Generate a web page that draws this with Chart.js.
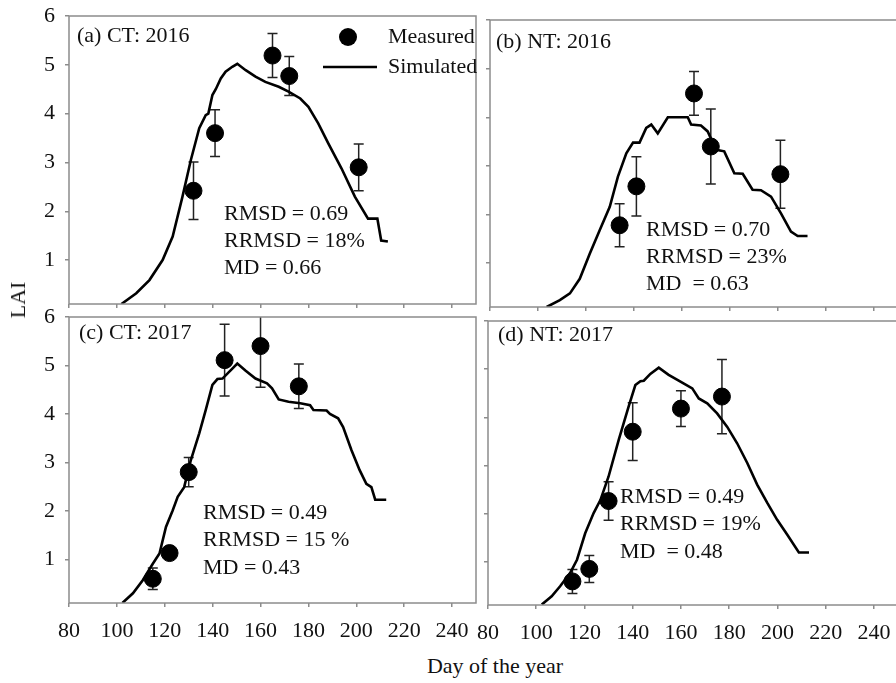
<!DOCTYPE html>
<html><head><meta charset="utf-8">
<script src="https://cdn.jsdelivr.net/npm/chart.js@4.4.0/dist/chart.umd.min.js"></script>
<style>
html,body{margin:0;padding:0;background:#fff;overflow:hidden;width:896px;height:683px;position:relative;}
canvas{position:absolute;}
.lbl{position:absolute;font-family:"Liberation Serif","Times New Roman",serif;font-size:22px;color:#111;white-space:nowrap;line-height:1;}
</style></head><body>
<canvas id="pa" width="480" height="312" style="left:0px;top:0px;"></canvas>
<canvas id="pb" width="430" height="312" style="left:470px;top:0px;"></canvas>
<canvas id="pc" width="480" height="356" style="left:0px;top:296px;"></canvas>
<canvas id="pd" width="430" height="356" style="left:470px;top:296px;"></canvas>
<div class="lbl" id="ylab" style="left:18px;top:300px;transform:translate(-50%,-50%) rotate(-90deg);">LAI</div>
<div class="lbl" id="xlab" style="left:495px;top:666px;transform:translate(-50%,-50%);">Day of the year</div>
<script>
const xTicks = [80,100,120,140,160,180,200,220,240];
const yTicks = [1,2,3,4,5,6];
const seriesNames = ['Measured','Simulated'];
const panelTitles = ['(a) CT: 2016','(b) NT: 2016','(c) CT: 2017','(d) NT: 2017'];
const panelStats = [
  ['RMSD = 0.69','RRMSD = 18%','MD = 0.66'],
  ['RMSD = 0.70','RRMSD = 23%','MD  = 0.63'],
  ['RMSD = 0.49','RRMSD = 15 %','MD = 0.43'],
  ['RMSD = 0.49','RRMSD = 19%','MD  = 0.48']
];

// (a) CT 2016
const ct16MeasDay = [132,141,165,172,201];
const ct16MeasLai = [2.42,3.60,5.19,4.77,2.90];
const ct16MeasErr = [0.59,0.48,0.45,0.40,0.48];
const ct16SimDay = [101.9,108.1,113.6,119.1,123.3,127.4,130.9,134.4,137.1,138.2,139.9,141.3,143.4,145.4,148.2,150.3,153.8,157.9,162.0,167.6,171.7,176.6,180.0,184.1,188.3,193.8,199.4,204.9,208.8,210.4,213.2];
const ct16SimLai = [0.10,0.32,0.59,1.00,1.48,2.30,3.05,3.70,3.97,4.00,4.38,4.50,4.72,4.86,4.96,5.02,4.89,4.76,4.65,4.55,4.45,4.31,4.14,3.80,3.39,2.88,2.30,1.85,1.85,1.40,1.38];

// (b) NT 2016
const nt16MeasDay = [134,141,165,172,201];
const nt16MeasLai = [1.78,2.58,4.49,3.40,2.83];
const nt16MeasErr = [0.44,0.61,0.45,0.77,0.70];
const nt16SimDay = [103.6,109.1,113.3,117.4,121.6,125.7,129.9,133.3,136.8,139.6,142.3,145.1,147.2,149.9,154.1,157.6,162.4,163.8,167.9,170.7,174.2,177.6,181.8,185.3,189.4,192.9,197.1,201.3,205.4,208.2,212.3];
const nt16SimLai = [0.10,0.24,0.38,0.68,1.20,1.68,2.16,2.78,3.26,3.48,3.48,3.78,3.85,3.67,4.00,4.00,4.00,3.85,3.83,3.71,3.33,3.30,2.85,2.84,2.51,2.50,2.37,2.02,1.65,1.56,1.56];

// (c) CT 2017
const ct17MeasDay = [115,122,130,145,160,176];
const ct17MeasLai = [0.60,1.13,2.80,5.11,5.40,4.57];
const ct17MeasErr = [0.22,0.13,0.30,0.74,0.85,0.46];
const ct17SimDay = [102.3,106.7,110.8,115.0,117.8,120.5,123.3,125.4,128.1,130.9,134.4,137.1,139.9,142.0,144.1,147.5,150.3,153.8,157.9,162.7,164.8,167.6,171.7,176.6,180.7,182.1,187.6,189.0,192.4,194.5,198.0,201.4,204.2,206.3,207.9,212.5];
const ct17SimLai = [0.10,0.30,0.57,0.91,1.12,1.67,2.01,2.29,2.49,3.05,3.60,4.08,4.60,4.72,4.73,4.90,5.04,4.89,4.73,4.63,4.53,4.30,4.25,4.22,4.18,4.08,4.07,4.00,3.91,3.73,3.25,2.84,2.56,2.49,2.23,2.23];

// (d) NT 2017
const nt17MeasDay = [115,122,130,140,160,177];
const nt17MeasLai = [0.59,0.85,2.26,3.70,4.18,4.43];
const nt17MeasErr = [0.25,0.28,0.40,0.60,0.37,0.77];
const nt17SimDay = [102.3,106.4,109.9,114.1,116.9,120.3,123.8,126.6,130.0,134.2,138.3,141.1,143.2,144.6,147.3,150.8,154.9,159.8,164.7,167.4,170.9,175.0,179.2,183.3,187.5,191.6,195.8,199.9,204.1,208.9,213.1];
const nt17SimLai = [0.11,0.28,0.49,0.77,1.04,1.59,2.01,2.28,2.77,3.53,4.22,4.67,4.75,4.76,4.90,5.03,4.88,4.74,4.60,4.39,4.29,4.08,3.80,3.46,3.05,2.60,2.22,1.87,1.56,1.19,1.19];

const FONT = '"Liberation Serif","Times New Roman",serif';
const TXT = '#111';
const FRAME = '#8c8c8c';

const framePlugin = {
  id: 'frame',
  afterDraw(chart) {
    const {ctx, chartArea: a} = chart;
    ctx.save();
    ctx.strokeStyle = FRAME;
    ctx.lineWidth = 1.5;
    ctx.strokeRect(a.left, a.top, a.right - a.left, a.bottom - a.top);
    ctx.restore();
  }
};

const errorBarPlugin = {
  id: 'errbars',
  beforeDatasetsDraw(chart, args, opts) {
    const {ctx, chartArea: a, scales} = chart;
    const ds = chart.data.datasets[0];
    const errs = opts.errors || [];
    ctx.save();
    ctx.beginPath();
    ctx.rect(a.left, a.top, a.right - a.left, a.bottom - a.top);
    ctx.clip();
    ctx.strokeStyle = '#222';
    ctx.lineWidth = 1.5;
    ds.data.forEach((p, i) => {
      const e = errs[i];
      const x = scales.x.getPixelForValue(p.x);
      const yt = scales.y.getPixelForValue(p.y + e);
      const yb = scales.y.getPixelForValue(p.y - e);
      ctx.beginPath();
      ctx.moveTo(x, yt); ctx.lineTo(x, yb);
      ctx.moveTo(x - 5, yt); ctx.lineTo(x + 5, yt);
      ctx.moveTo(x - 5, yb); ctx.lineTo(x + 5, yb);
      ctx.stroke();
    });
    ctx.restore();
  }
};

const textPlugin = {
  id: 'texts',
  afterDraw(chart, args, o) {
    const {ctx, chartArea: a} = chart;
    ctx.save();
    ctx.font = '22px ' + FONT;
    ctx.fillStyle = TXT;
    ctx.textBaseline = 'middle';
    ctx.textAlign = 'left';
    ctx.fillText(o.title, a.left + o.titlePos[0], a.top + o.titlePos[1]);
    o.stats.forEach((s, i) => {
      ctx.fillText(s, a.left + o.statsPos[0], a.top + o.statsPos[1] + i * o.statsGap);
    });
    if (o.legend) {
      const L = o.legend;
      const names = chart.data.datasets.map(d => d.label);
      ctx.beginPath();
      ctx.fillStyle = '#000';
      ctx.arc(a.left + L.dot[0], a.top + L.dot[1], 9, 0, Math.PI * 2);
      ctx.fill();
      ctx.beginPath();
      ctx.strokeStyle = '#000';
      ctx.lineWidth = 2.6;
      ctx.moveTo(a.left + L.line[0], a.top + L.line[2]);
      ctx.lineTo(a.left + L.line[1], a.top + L.line[2]);
      ctx.stroke();
      ctx.fillStyle = TXT;
      ctx.fillText(names[0], a.left + L.textX, a.top + L.dot[1]);
      ctx.fillText(names[1], a.left + L.textX, a.top + L.line[2]);
    }
    ctx.restore();
  }
};

function zeroPad(s) {
  s.paddingTop = 0; s.paddingBottom = 0; s.paddingLeft = 0; s.paddingRight = 0;
}

function makePanel(id, measDay, measLai, measErr, simDay, simLai, o) {
  const ctx = document.getElementById(id).getContext('2d');
  return new Chart(ctx, {
    type: 'scatter',
    data: {
      datasets: [
        {
          label: seriesNames[0],
          data: measDay.map((d, i) => ({x: d, y: measLai[i]})),
          showLine: false,
          pointRadius: 8.5,
          pointBorderWidth: 1,
          backgroundColor: '#000',
          borderColor: '#000',
          pointHoverRadius: 8.5
        },
        {
          label: seriesNames[1],
          data: simDay.map((d, i) => ({x: d, y: simLai[i]})),
          showLine: true,
          borderColor: '#000',
          borderWidth: 2.6,
          pointRadius: 0,
          pointHoverRadius: 0,
          tension: 0,
          fill: false
        }
      ]
    },
    options: {
      responsive: false,
      animation: false,
      events: [],
      layout: {autoPadding: false, padding: {top: o.padTop, right: o.padRight, left: 0, bottom: 0}},
      plugins: {
        legend: {display: false},
        tooltip: {enabled: false},
        errbars: {errors: measErr},
        texts: o.texts
      },
      scales: {
        x: {
          type: 'linear', min: 80, max: 250,
          afterBuildTicks: s => { s.ticks = xTicks.map(v => ({value: v})); },
          afterFit: s => { s.height = o.xHeight; zeroPad(s); },
          ticks: {display: o.showX, font: {family: FONT, size: 22}, color: TXT, padding: 11, maxRotation: 0, autoSkip: false},
          grid: {drawOnChartArea: false, drawTicks: true, tickLength: 4, color: FRAME, lineWidth: 1.5},
          border: {display: false}
        },
        y: {
          type: 'linear', min: 0.1, max: 6,
          afterBuildTicks: s => { s.ticks = yTicks.map(v => ({value: v})); },
          afterFit: s => { s.width = o.yWidth; zeroPad(s); },
          ticks: {display: o.showY, font: {family: FONT, size: 22}, color: TXT, padding: 10, autoSkip: false},
          grid: {drawOnChartArea: false, drawTicks: true, tickLength: 4, color: FRAME, lineWidth: 1.5},
          border: {display: false}
        }
      }
    },
    plugins: [framePlugin, errorBarPlugin, textPlugin]
  });
}

makePanel('pa', ct16MeasDay, ct16MeasLai, ct16MeasErr, ct16SimDay, ct16SimLai, {
  padTop: 16, padRight: 4, yWidth: 69, xHeight: 8, showX: false, showY: true,
  texts: {title: panelTitles[0], titlePos: [8, 20], stats: panelStats[0], statsPos: [155, 198], statsGap: 27,
    legend: {dot: [279, 21], line: [254, 308, 51], textX: 319}}
});
makePanel('pb', nt16MeasDay, nt16MeasLai, nt16MeasErr, nt16SimDay, nt16SimLai, {
  padTop: 20, padRight: 2, yWidth: 20, xHeight: 5, showX: false, showY: false,
  texts: {title: panelTitles[1], titlePos: [6, 22], stats: panelStats[1], statsPos: [156, 210], statsGap: 27}
});
makePanel('pc', ct17MeasDay, ct17MeasLai, ct17MeasErr, ct17SimDay, ct17SimLai, {
  padTop: 21, padRight: 4, yWidth: 69, xHeight: 49, showX: true, showY: true,
  texts: {title: panelTitles[2], titlePos: [10, 16], stats: panelStats[2], statsPos: [134, 196], statsGap: 27.5}
});
makePanel('pd', nt17MeasDay, nt17MeasLai, nt17MeasErr, nt17SimDay, nt17SimLai, {
  padTop: 25, padRight: 2, yWidth: 18, xHeight: 47, showX: true, showY: false,
  texts: {title: panelTitles[3], titlePos: [10, 14], stats: panelStats[3], statsPos: [132, 176], statsGap: 27.5}
});
</script>
</body></html>
